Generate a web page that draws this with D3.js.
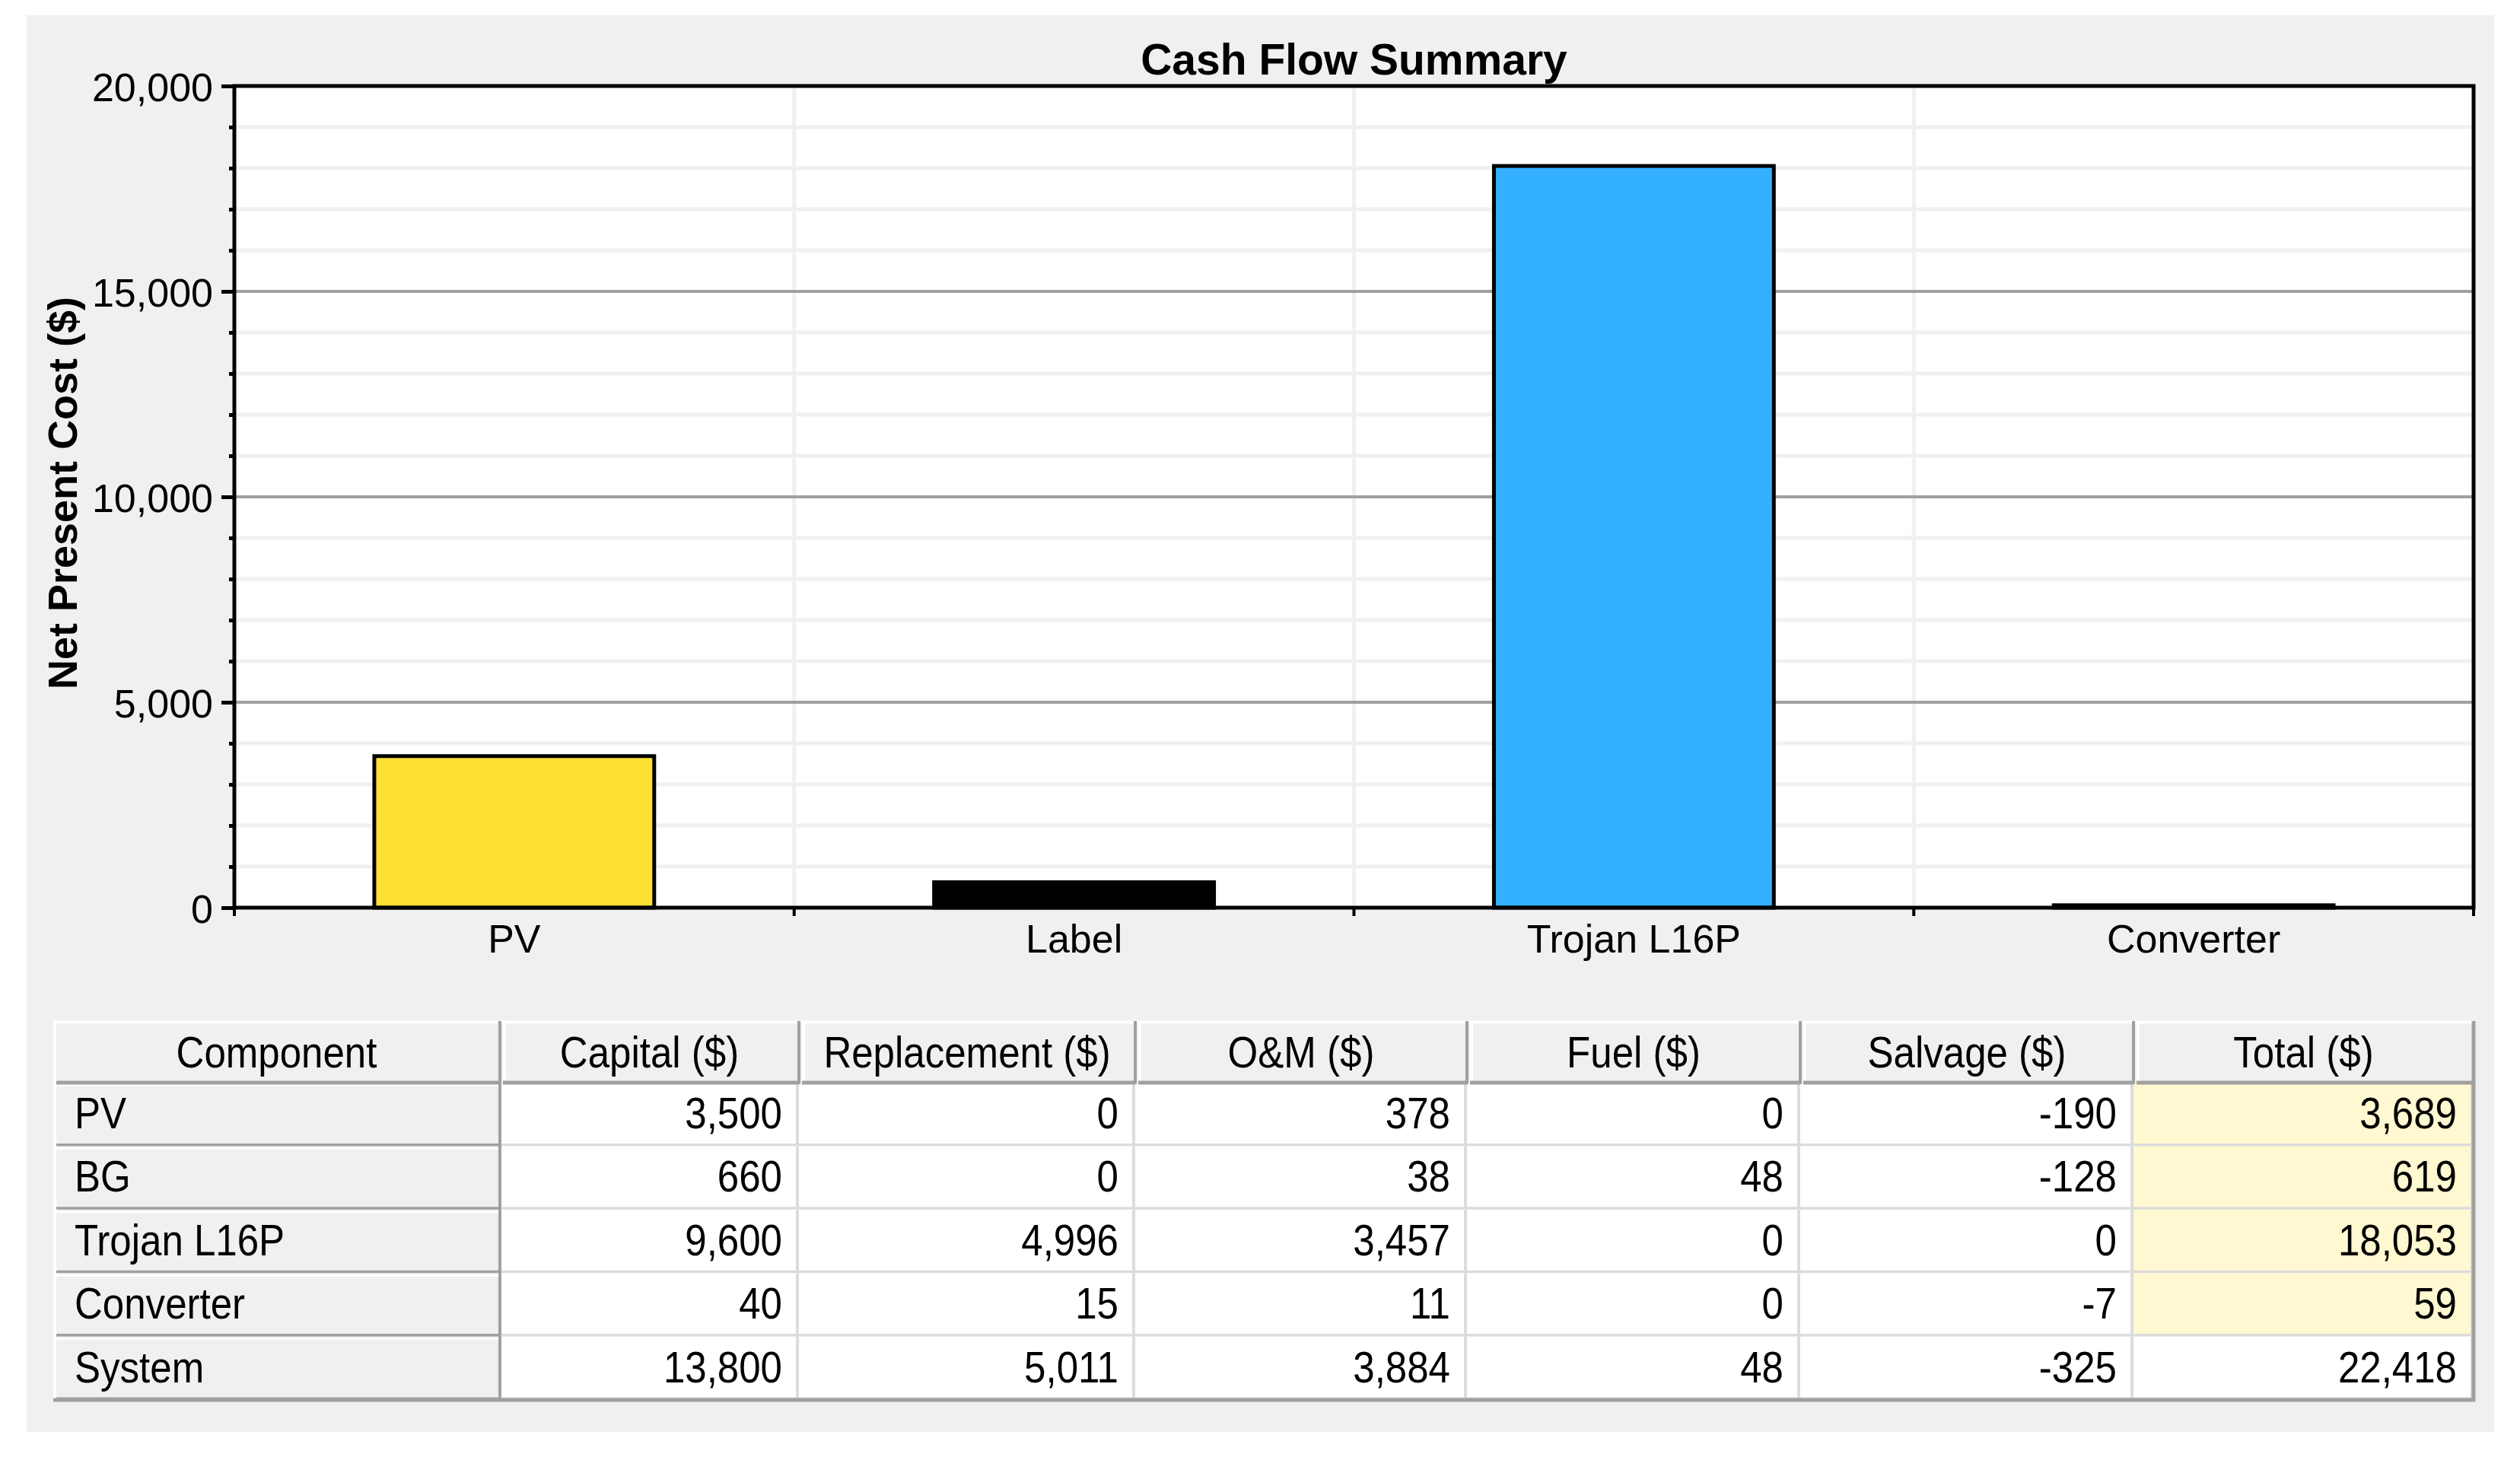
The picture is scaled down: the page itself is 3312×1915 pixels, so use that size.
<!DOCTYPE html>
<html>
<head>
<meta charset="utf-8">
<script src="https://cdn.jsdelivr.net/npm/d3@7"></script>
<style>
  html, body { margin: 0; padding: 0; background: #ffffff; }
  svg { display: block; }
  text { font-family: "Liberation Sans", Arial, sans-serif; fill: #000; }
</style>
</head>
<body>
<svg id="chart" width="3312" height="1915"></svg>
<script>
// ---------------- DATA ----------------
const chartTitle = "Cash Flow Summary";
const yAxisTitle = "Net Present Cost ($)";
const categories = ["PV", "Label", "Trojan L16P", "Converter"];
const netPresentCost = [3689, 619, 18053, 59];
const yTickValues = [0, 5000, 10000, 15000, 20000];
const yMinorStep = 1000;

const tableHeaders = ["Component", "Capital ($)", "Replacement ($)", "O&M ($)", "Fuel ($)", "Salvage ($)", "Total ($)"];
const components = ["PV", "BG", "Trojan L16P", "Converter", "System"];
const capital = [3500, 660, 9600, 40, 13800];
const replacement = [0, 0, 4996, 15, 5011];
const oandm = [378, 38, 3457, 11, 3884];
const fuel = [0, 48, 0, 0, 48];
const salvage = [-190, -128, 0, -7, -325];
const total = [3689, 619, 18053, 59, 22418];

// ---------------- STYLE ----------------
const barColors = ["#FFE135", "#000000", "#33B0FF", "#000000"];
const panelGray = "#f0f0f0";
const darkLine = "#a0a0a0";
const lightLine = "#dcdcdc";
const totalYellow = "#fff8d0";

const fmt = d3.formatLocale({decimal: ".", thousands: ",", grouping: [3], currency: ["$", ""], minus: "-"}).format(",");

const svg = d3.select("#chart");

// background panel
svg.append("rect").attr("x", 35).attr("y", 20).attr("width", 3243).attr("height", 1862).attr("fill", panelGray);

// ---------------- CHART ----------------
const plot = {left: 308, right: 3251, top: 113, bottom: 1193};
const x = d3.scaleBand().domain(categories).range([plot.left, plot.right]).paddingInner(0).paddingOuter(0);
const y = d3.scaleLinear().domain([0, 20000]).range([plot.bottom, plot.top]);
const color = d3.scaleOrdinal(categories, barColors);

svg.append("rect").attr("x", plot.left).attr("y", plot.top)
  .attr("width", plot.right - plot.left).attr("height", plot.bottom - plot.top).attr("fill", "#ffffff");

const minorTicks = d3.range(0, 20000 + 1, yMinorStep).filter(v => !yTickValues.includes(v));

// minor horizontal gridlines
svg.append("g").selectAll("line").data(minorTicks).join("line")
  .attr("x1", plot.left).attr("x2", plot.right)
  .attr("y1", d => y(d)).attr("y2", d => y(d))
  .attr("stroke", panelGray).attr("stroke-width", 5);

// vertical category gridlines
const boundaries = categories.slice(1).map(c => x(c));
svg.append("g").selectAll("line").data(boundaries).join("line")
  .attr("x1", d => d).attr("x2", d => d)
  .attr("y1", plot.top).attr("y2", plot.bottom)
  .attr("stroke", panelGray).attr("stroke-width", 5);

// major horizontal gridlines
svg.append("g").selectAll("line").data(yTickValues.filter(v => v > 0 && v < 20000)).join("line")
  .attr("x1", plot.left).attr("x2", plot.right)
  .attr("y1", d => y(d)).attr("y2", d => y(d))
  .attr("stroke", darkLine).attr("stroke-width", 4);

// bars
const barW = x.bandwidth() * 0.5;
svg.append("g").selectAll("rect").data(categories).join("rect")
  .attr("x", d => x(d) + (x.bandwidth() - barW) / 2)
  .attr("y", (d, i) => y(netPresentCost[i]))
  .attr("width", barW)
  .attr("height", (d, i) => y(0) - y(netPresentCost[i]))
  .attr("fill", d => color(d))
  .attr("stroke", "#000").attr("stroke-width", 5);

// frame
svg.append("rect").attr("x", plot.left).attr("y", plot.top)
  .attr("width", plot.right - plot.left).attr("height", plot.bottom - plot.top)
  .attr("fill", "none").attr("stroke", "#000").attr("stroke-width", 5);

// y axis (major ticks + labels)
const yAxis = d3.axisLeft(y).tickValues(yTickValues).tickSize(17).tickPadding(11).tickFormat(fmt);
const gy = svg.append("g").attr("transform", `translate(${plot.left},0)`).call(yAxis);
gy.select(".domain").remove();
gy.selectAll(".tick line").attr("stroke", "#000").attr("stroke-width", 5);
gy.selectAll(".tick text").attr("font-size", 52).attr("dy", null).attr("y", 19)
  .attr("font-family", '"Liberation Sans", Arial, sans-serif').attr("fill", "#000");

// y minor ticks
const yMinor = d3.axisLeft(y).tickValues(minorTicks).tickSize(7).tickFormat("");
const gym = svg.append("g").attr("transform", `translate(${plot.left},0)`).call(yMinor);
gym.select(".domain").remove();
gym.selectAll(".tick line").attr("stroke", "#000").attr("stroke-width", 5);

// x axis labels
const xAxis = d3.axisBottom(x).tickSize(0).tickPadding(0);
const gx = svg.append("g").attr("transform", `translate(0,${plot.bottom})`).call(xAxis);
gx.select(".domain").remove();
gx.selectAll(".tick text").attr("font-size", 52).attr("dy", null).attr("y", 59)
  .attr("font-family", '"Liberation Sans", Arial, sans-serif').attr("fill", "#000");

// x boundary ticks
const xEdges = [plot.left, ...boundaries, plot.right];
svg.append("g").selectAll("line").data(xEdges).join("line")
  .attr("x1", d => d).attr("x2", d => d)
  .attr("y1", plot.bottom).attr("y2", plot.bottom + 11)
  .attr("stroke", "#000").attr("stroke-width", 4);

// title
svg.append("text").attr("x", (plot.left + plot.right) / 2).attr("y", 98)
  .attr("text-anchor", "middle").attr("font-size", 57).attr("font-weight", "bold")
  .text(chartTitle);

// y axis title
svg.append("text").attr("transform", `translate(101,648) rotate(-90)`)
  .attr("text-anchor", "middle").attr("font-size", 54).attr("font-weight", "bold")
  .text(yAxisTitle);

// ---------------- TABLE ----------------
const colEdges = [70, 657, 1050, 1492, 1928, 2366, 2804, 3251];
const headerTop = 1342, headerBottom = 1423;
const rowEdges = d3.range(components.length + 1).map(i => headerBottom + i * (1840 - headerBottom) / components.length);
const columns = [capital, replacement, oandm, fuel, salvage, total];
const tableFont = 58, squeeze = 0.88;

const tg = svg.append("g");
// white base
tg.append("rect").attr("x", colEdges[0]).attr("y", headerTop)
  .attr("width", colEdges[7] - colEdges[0]).attr("height", 1840 - headerTop).attr("fill", "#fff");

// data cells
columns.forEach((col, ci) => {
  const x0 = colEdges[ci + 1], x1 = colEdges[ci + 2];
  col.forEach((v, ri) => {
    const y0 = rowEdges[ri], y1 = rowEdges[ri + 1];
    const isYellow = ci === columns.length - 1 && ri < components.length - 1;
    tg.append("rect").attr("x", x0).attr("y", y0).attr("width", x1 - x0).attr("height", y1 - y0)
      .attr("fill", isYellow ? totalYellow : "#fff");
    tg.append("line").attr("x1", x0).attr("x2", x1).attr("y1", y1 - 1).attr("y2", y1 - 1)
      .attr("stroke", lightLine).attr("stroke-width", 5);
    tg.append("line").attr("x1", x1 - 2).attr("x2", x1 - 2).attr("y1", y0).attr("y2", y1)
      .attr("stroke", lightLine).attr("stroke-width", 4);
    tg.append("text").attr("transform", `translate(${x1 - 22},${y0 + 60}) scale(${squeeze},1)`)
      .attr("text-anchor", "end").attr("font-size", tableFont).text(fmt(v));
  });
});

// component (row header) cells
components.forEach((c, ri) => {
  const x0 = colEdges[0], x1 = colEdges[1], y0 = rowEdges[ri], y1 = rowEdges[ri + 1];
  tg.append("rect").attr("x", x0).attr("y", y0).attr("width", x1 - x0).attr("height", y1 - y0).attr("fill", panelGray);
  tg.append("line").attr("x1", x0).attr("x2", x1).attr("y1", y0 + 3).attr("y2", y0 + 3).attr("stroke", "#fff").attr("stroke-width", 3);
  tg.append("line").attr("x1", x0 + 2).attr("x2", x0 + 2).attr("y1", y0).attr("y2", y1).attr("stroke", "#fff").attr("stroke-width", 4);
  tg.append("line").attr("x1", x0 + 4).attr("x2", x1).attr("y1", y1 - 1).attr("y2", y1 - 1).attr("stroke", darkLine).attr("stroke-width", 5);
  tg.append("text").attr("transform", `translate(${x0 + 28},${y0 + 60}) scale(${squeeze},1)`)
    .attr("font-size", tableFont).text(c);
});

// header cells
tableHeaders.forEach((h, ci) => {
  const x0 = colEdges[ci], x1 = colEdges[ci + 1];
  tg.append("rect").attr("x", x0).attr("y", headerTop).attr("width", x1 - x0).attr("height", headerBottom - headerTop).attr("fill", panelGray);
  tg.append("line").attr("x1", x0).attr("x2", x1).attr("y1", headerTop + 1.5).attr("y2", headerTop + 1.5).attr("stroke", "#fff").attr("stroke-width", 4);
  tg.append("line").attr("x1", x0 + (ci === 0 ? 2 : 6)).attr("x2", x0 + (ci === 0 ? 2 : 6)).attr("y1", headerTop).attr("y2", headerBottom).attr("stroke", "#fff").attr("stroke-width", 4);
  tg.append("line").attr("x1", x0 + 4).attr("x2", x1).attr("y1", headerBottom).attr("y2", headerBottom).attr("stroke", darkLine).attr("stroke-width", 5);
  tg.append("text").attr("transform", `translate(${(x0 + x1) / 2},${headerTop + 61}) scale(${squeeze},1)`)
    .attr("text-anchor", "middle").attr("font-size", tableFont).text(h);
});

// dark vertical separators in header and component column
colEdges.slice(1, 7).forEach(xe => {
  tg.append("line").attr("x1", xe).attr("x2", xe).attr("y1", headerTop).attr("y2", headerBottom + 2)
    .attr("stroke", darkLine).attr("stroke-width", 4);
});
tg.append("line").attr("x1", colEdges[1]).attr("x2", colEdges[1]).attr("y1", headerTop).attr("y2", 1840)
  .attr("stroke", darkLine).attr("stroke-width", 4);
// right edge & bottom
tg.append("line").attr("x1", colEdges[7]).attr("x2", colEdges[7]).attr("y1", headerTop).attr("y2", 1842)
  .attr("stroke", darkLine).attr("stroke-width", 5);
tg.append("line").attr("x1", colEdges[0]).attr("x2", colEdges[7] + 2).attr("y1", 1840).attr("y2", 1840)
  .attr("stroke", darkLine).attr("stroke-width", 5);
</script>
</body>
</html>
